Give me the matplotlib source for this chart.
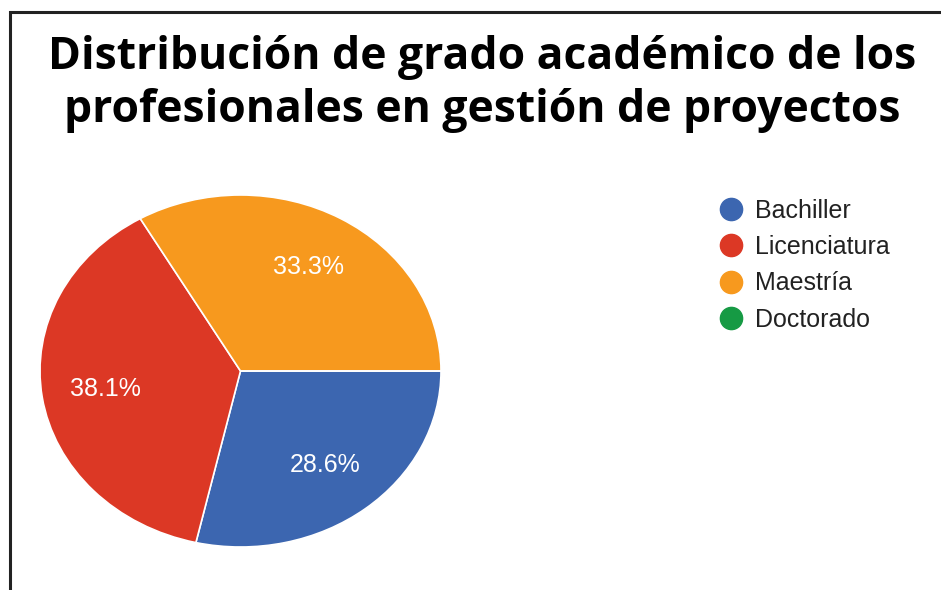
import matplotlib
matplotlib.use("Agg")
import matplotlib.pyplot as plt
from matplotlib.lines import Line2D
from matplotlib.patches import Rectangle

# datos del grafico
categorias = ['Bachiller', 'Licenciatura', 'Maestría', 'Doctorado']
cantidades = [6, 8, 7, 0]
colores = ['#3c66b0', '#dc3825', '#f7991e', '#169a44']
titulo = 'Distribución de grado académico de los\nprofesionales en gestión de proyectos'

W, H = 941, 590


def etiqueta(p):
	# no mostrar porcentaje de los sectores vacios
	return '' if p < 0.05 else '%.1f%%' % p


def main():
	fig = plt.figure(figsize=(W / 100, H / 100), dpi=100)
	fig.patch.set_facecolor('white')

	# el pie es un poco mas ancho que alto
	axes = fig.add_axes([40 / W, (H - 547) / H, 401 / W, 352 / H])
	wedges, texts, autotexts = axes.pie(
		cantidades, colors=colores, startangle=0, counterclock=False,
		autopct=etiqueta, pctdistance=0.68,
		wedgeprops=dict(edgecolor='white', linewidth=1.2),
		textprops=dict(color='white', fontsize=18, family=['Liberation Sans']))
	axes.set_aspect('auto')
	axes.set_xlim(-1, 1)
	axes.set_ylim(-1, 1)
	axes.axis('off')

	fig.text(482 / W, 1 - 84 / H, titulo, ha='center', va='center',
		fontsize=32, fontweight='bold', fontstretch='normal', family=['Open Sans'],
		linespacing=1.22)

	handles = [Line2D([], [], marker='o', ls='', color=c, markersize=16) for c in colores]
	fig.legend(handles, categorias, loc='upper left',
		bbox_to_anchor=(700 / W, 1 - 186 / H), frameon=False,
		prop=dict(family=['Liberation Sans'], size=18), labelcolor='#222222',
		handletextpad=0.2, labelspacing=0.5, borderpad=0, handlelength=1.5)

	# marco negro de la captura
	fig.add_artist(Rectangle((10 / W, -0.1), 1.2, 1.1 - 12 / H, transform=fig.transFigure,
		fill=False, edgecolor='#222222', linewidth=2.2, clip_on=False))

	fig.savefig('out.png', dpi=100)


if __name__ == "__main__":
	main()
